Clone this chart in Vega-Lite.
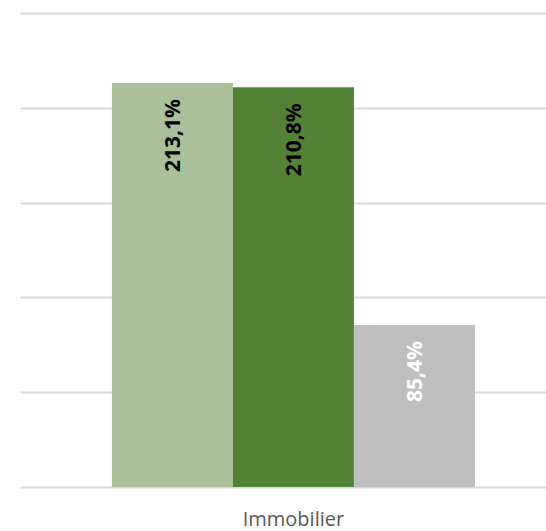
{
  "$schema": "https://vega.github.io/schema/vega-lite/v6.json",
  "width": 526,
  "height": 474,
  "autosize": "none",
  "padding": {"left": 20, "top": 13, "right": 0, "bottom": 44},
  "background": "white",
  "config": {"view": {"stroke": null}},
  "data": {
    "values": [
      {"categorie": "Immobilier", "serie": "Série 1", "valeur": 213.1, "texte": "213,1%"},
      {"categorie": "Immobilier", "serie": "Série 2", "valeur": 210.8, "texte": "210,8%"},
      {"categorie": "Immobilier", "serie": "Série 3", "valeur": 85.4, "texte": "85,4%"}
    ]
  },
  "encoding": {
    "x": {
      "field": "categorie",
      "type": "nominal",
      "scale": {"paddingInner": 0, "paddingOuter": 0.2245, "align": 0.564},
      "axis": {
        "title": null,
        "domain": false,
        "ticks": false,
        "labelAngle": 0,
        "labelFont": "Open Sans",
        "labelFontSize": 20,
        "labelColor": "#595959",
        "labelPadding": 22
      }
    },
    "xOffset": {
      "field": "serie",
      "type": "nominal",
      "scale": {"paddingInner": 0, "paddingOuter": 0}
    },
    "y": {
      "field": "valeur",
      "type": "quantitative",
      "scale": {"domain": [0, 250], "nice": false},
      "axis": {
        "title": null,
        "domain": false,
        "ticks": false,
        "labels": false,
        "values": [0, 50, 100, 150, 200, 250],
        "grid": true,
        "gridColor": "#d9d9d9",
        "gridWidth": 2
      }
    }
  },
  "layer": [
    {
      "mark": {"type": "bar", "opacity": 1},
      "encoding": {
        "color": {
          "field": "serie",
          "type": "nominal",
          "scale": {"domain": ["Série 1", "Série 2", "Série 3"], "range": ["#a9c09a", "#548235", "#bfbfbf"]},
          "legend": null
        }
      }
    },
    {
      "mark": {
        "type": "text",
        "angle": 270,
        "align": "right",
        "baseline": "middle",
        "dx": -16,
        "dy": 2,
        "font": "Open Sans",
        "fontSize": 21,
        "fontWeight": "bold"
      },
      "encoding": {
        "text": {"field": "texte"},
        "color": {
          "field": "serie",
          "type": "nominal",
          "scale": {"domain": ["Série 1", "Série 2", "Série 3"], "range": ["#000000", "#000000", "#ffffff"]},
          "legend": null
        }
      }
    }
  ],
  "resolve": {"scale": {"color": "independent"}}
}
